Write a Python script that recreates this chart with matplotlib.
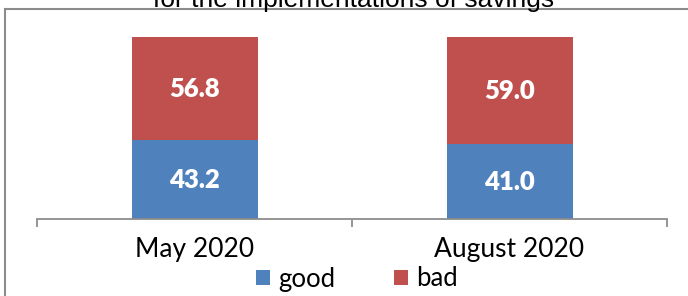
import matplotlib
matplotlib.use("Agg")
import matplotlib.pyplot as plt
from matplotlib.patches import Rectangle, Patch
import numpy as np

categories = ["May 2020", "August 2020"]
good = [43.2, 41.0]
bad = [56.8, 59.0]
series_names = ["good", "bad"]
colors = ["#4F81BD", "#C0504D"]
title = "for the implementations of savings"

W, H = 688, 296
fig = plt.figure(figsize=(W / 100, H / 100), dpi=100)

ax_left, ax_right = 37, 667
ax_bottom, ax_top = 219, 37
ax = fig.add_axes([ax_left / W, 1 - ax_bottom / H, (ax_right - ax_left) / W, (ax_bottom - ax_top) / H])

x = np.arange(len(categories))
b1 = ax.bar(x, good, width=0.4, color=colors[0], label=series_names[0])
b2 = ax.bar(x, bad, width=0.4, bottom=good, color=colors[1], label=series_names[1])

for bars in (b1, b2):
    ax.bar_label(bars, fmt="%.1f", label_type="center", color="white",
                 fontsize=18.5, fontweight="heavy", family=["Lato", "DejaVu Sans"])

ax.set_xlim(-0.5, len(categories) - 0.5)
ax.set_ylim(0, 100)
for s in ["top", "right", "left"]:
    ax.spines[s].set_visible(False)
ax.spines["bottom"].set_color("#8C8C8C")
ax.spines["bottom"].set_linewidth(1.3)
ax.set_yticks([])
ax.set_xticks(x)
ax.set_xticklabels(categories, fontsize=19, family=["Lato", "DejaVu Sans"], color="black")
ax.tick_params(axis="x", which="major", length=0, pad=13)
ax.set_xticks(np.arange(-0.5, len(categories)), minor=True)
ax.tick_params(axis="x", which="minor", length=6, width=1.3, color="#8C8C8C", direction="out")

handles = [Patch(facecolor=c, edgecolor="none", label=n) for c, n in zip(colors, series_names)]
leg = fig.legend(handles=handles, loc="center", bbox_to_anchor=(357 / W, 1 - 279 / H), ncol=2,
                 frameon=False, prop={"family": ["Lato", "DejaVu Sans"], "size": 18.5},
                 handlelength=0.55, handleheight=0.55, handletextpad=0.3, columnspacing=2.3,
                 borderpad=0, borderaxespad=0)

fig.text(354 / W, 1 - 7 / H, title, ha="center", va="baseline", fontsize=19,
         family=["Liberation Sans", "DejaVu Sans"], color="black")

fig.patches.append(Rectangle((5 / W, -0.1), 2, (H - 9) / H + 0.1, transform=fig.transFigure,
                             fill=False, edgecolor="#8C8C8C", linewidth=1.5))

fig.savefig("out.png", dpi=100)
